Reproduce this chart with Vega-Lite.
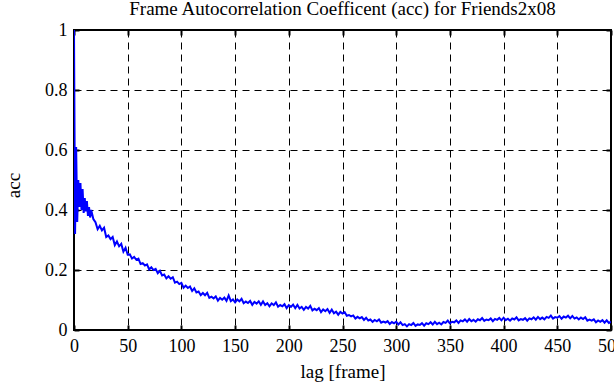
{
  "$schema": "https://vega.github.io/schema/vega-lite/v6.json",
  "autosize": "none",
  "width": 537,
  "height": 300,
  "padding": {"left": 74, "top": 30, "right": 3, "bottom": 55},
  "background": "white",
  "config": {
    "font": "Liberation Serif",
    "view": {"stroke": "black", "strokeWidth": 2},
    "axis": {"labelFont": "Liberation Serif", "titleFont": "Liberation Serif", "labelFontSize": 18, "titleFontSize": 19, "labelColor": "black", "titleColor": "black", "titleFontWeight": "normal", "minExtent": 0}
  },
  "title": {"text": "Frame Autocorrelation Coefficent (acc) for Friends2x08", "anchor": "middle", "offset": 0, "dy": 13, "baseline": "alphabetic", "fontSize": 19, "fontWeight": "normal", "font": "Liberation Serif", "color": "black"},
  "data": {"values": [
    {"lag":0,"acc":1.0},{"lag":1,"acc":0.32},{"lag":2,"acc":0.61},{"lag":3,"acc":0.36},{"lag":4,"acc":0.5},{"lag":5,"acc":0.41},{"lag":6,"acc":0.49},{"lag":7,"acc":0.4},{"lag":8,"acc":0.47},{"lag":9,"acc":0.39},{"lag":10,"acc":0.44},{"lag":11,"acc":0.395},{"lag":12,"acc":0.43},{"lag":13,"acc":0.38},{"lag":14,"acc":0.41},{"lag":15,"acc":0.375},
    {"lag":16,"acc":0.4},{"lag":18,"acc":0.37},{"lag":20,"acc":0.359},{"lag":22,"acc":0.336},{"lag":24,"acc":0.347},{"lag":26,"acc":0.332},{"lag":28,"acc":0.341},{"lag":30,"acc":0.31},{"lag":32,"acc":0.315},{"lag":34,"acc":0.303},{"lag":36,"acc":0.31},{"lag":38,"acc":0.283},{"lag":40,"acc":0.295},{"lag":42,"acc":0.279},{"lag":44,"acc":0.287},{"lag":46,"acc":0.261},{"lag":48,"acc":0.274},
    {"lag":50,"acc":0.251},{"lag":52,"acc":0.252},{"lag":54,"acc":0.238},{"lag":56,"acc":0.2435},{"lag":58,"acc":0.234},{"lag":60,"acc":0.238},{"lag":62,"acc":0.22},{"lag":64,"acc":0.223},{"lag":66,"acc":0.215},{"lag":68,"acc":0.219},{"lag":70,"acc":0.202},{"lag":72,"acc":0.209},{"lag":74,"acc":0.2},{"lag":76,"acc":0.204},{"lag":78,"acc":0.189},{"lag":80,"acc":0.197},{"lag":82,"acc":0.182},{"lag":84,"acc":0.185},{"lag":86,"acc":0.172},{"lag":88,"acc":0.179},{"lag":90,"acc":0.171},{"lag":92,"acc":0.176},{"lag":94,"acc":0.158},{"lag":96,"acc":0.161},{"lag":98,"acc":0.153},
    {"lag":100,"acc":0.157},{"lag":102,"acc":0.141},{"lag":104,"acc":0.148},{"lag":106,"acc":0.14},{"lag":108,"acc":0.145},{"lag":110,"acc":0.13},{"lag":112,"acc":0.139},{"lag":114,"acc":0.125},{"lag":116,"acc":0.128},{"lag":118,"acc":0.116},{"lag":120,"acc":0.1235},{"lag":122,"acc":0.116},{"lag":124,"acc":0.124},{"lag":126,"acc":0.107},{"lag":128,"acc":0.111},{"lag":130,"acc":0.105},{"lag":132,"acc":0.112},{"lag":134,"acc":0.098},{"lag":136,"acc":0.107},{"lag":138,"acc":0.101},{"lag":140,"acc":0.108},{"lag":142,"acc":0.097},{"lag":144,"acc":0.115},{"lag":146,"acc":0.096},{"lag":148,"acc":0.102},
    {"lag":150,"acc":0.092},{"lag":152,"acc":0.1015},{"lag":154,"acc":0.0956},{"lag":156,"acc":0.104},{"lag":158,"acc":0.089},{"lag":160,"acc":0.0947},{"lag":162,"acc":0.09},{"lag":164,"acc":0.097},{"lag":166,"acc":0.084},{"lag":168,"acc":0.0936},{"lag":170,"acc":0.088},{"lag":172,"acc":0.0957},{"lag":174,"acc":0.0839},{"lag":176,"acc":0.0952},{"lag":178,"acc":0.0834},{"lag":180,"acc":0.0891},{"lag":182,"acc":0.0792},{"lag":184,"acc":0.0889},{"lag":186,"acc":0.0832},{"lag":188,"acc":0.0922},{"lag":190,"acc":0.0774},{"lag":192,"acc":0.0831},{"lag":194,"acc":0.079},{"lag":196,"acc":0.0861},{"lag":198,"acc":0.0729},
    {"lag":200,"acc":0.0828},{"lag":202,"acc":0.0771},{"lag":204,"acc":0.0847},{"lag":206,"acc":0.0727},{"lag":208,"acc":0.0838},{"lag":210,"acc":0.0718},{"lag":212,"acc":0.0773},{"lag":214,"acc":0.0674},{"lag":216,"acc":0.0771},{"lag":218,"acc":0.0714},{"lag":220,"acc":0.0804},{"lag":222,"acc":0.0654},{"lag":224,"acc":0.0707},{"lag":226,"acc":0.0662},{"lag":228,"acc":0.0729},{"lag":230,"acc":0.0593},{"lag":232,"acc":0.0686},{"lag":234,"acc":0.0625},{"lag":236,"acc":0.0697},{"lag":238,"acc":0.0573},{"lag":240,"acc":0.068},{"lag":242,"acc":0.0558},{"lag":244,"acc":0.0611},{"lag":246,"acc":0.051},{"lag":248,"acc":0.0605},
    {"lag":250,"acc":0.055},{"lag":252,"acc":0.0598},{"lag":254,"acc":0.0476},{"lag":256,"acc":0.0499},{"lag":258,"acc":0.0452},{"lag":260,"acc":0.0485},{"lag":262,"acc":0.0379},{"lag":264,"acc":0.0438},{"lag":266,"acc":0.0387},{"lag":268,"acc":0.0431},{"lag":270,"acc":0.0335},{"lag":272,"acc":0.0408},{"lag":274,"acc":0.0316},{"lag":276,"acc":0.0349},{"lag":278,"acc":0.0272},{"lag":280,"acc":0.0335},{"lag":282,"acc":0.0292},{"lag":284,"acc":0.0354},{"lag":286,"acc":0.0246},{"lag":288,"acc":0.0283},{"lag":290,"acc":0.025},{"lag":292,"acc":0.0297},{"lag":294,"acc":0.0199},{"lag":296,"acc":0.0266},{"lag":298,"acc":0.0223},
    {"lag":300,"acc":0.0275},{"lag":302,"acc":0.0183},{"lag":304,"acc":0.0256},{"lag":306,"acc":0.0164},{"lag":308,"acc":0.0197},{"lag":310,"acc":0.012},{"lag":312,"acc":0.0197},{"lag":314,"acc":0.0164},{"lag":316,"acc":0.0236},{"lag":318,"acc":0.0138},{"lag":320,"acc":0.0185},{"lag":322,"acc":0.0166},{"lag":324,"acc":0.0227},{"lag":326,"acc":0.0143},{"lag":328,"acc":0.0224},{"lag":330,"acc":0.0195},{"lag":332,"acc":0.0259},{"lag":334,"acc":0.0183},{"lag":336,"acc":0.0272},{"lag":338,"acc":0.0196},{"lag":340,"acc":0.0245},{"lag":342,"acc":0.0186},{"lag":344,"acc":0.0267},{"lag":346,"acc":0.0238},{"lag":348,"acc":0.0314},
    {"lag":350,"acc":0.022},{"lag":352,"acc":0.0273},{"lag":354,"acc":0.0256},{"lag":356,"acc":0.0319},{"lag":358,"acc":0.0237},{"lag":360,"acc":0.032},{"lag":362,"acc":0.0289},{"lag":364,"acc":0.0353},{"lag":366,"acc":0.0277},{"lag":368,"acc":0.0366},{"lag":370,"acc":0.029},{"lag":372,"acc":0.0339},{"lag":374,"acc":0.0278},{"lag":376,"acc":0.0357},{"lag":378,"acc":0.0326},{"lag":380,"acc":0.04},{"lag":382,"acc":0.0302},{"lag":384,"acc":0.0349},{"lag":386,"acc":0.0326},{"lag":388,"acc":0.0383},{"lag":390,"acc":0.0295},{"lag":392,"acc":0.0372},{"lag":394,"acc":0.0339},{"lag":396,"acc":0.0401},{"lag":398,"acc":0.0323},
    {"lag":400,"acc":0.041},{"lag":402,"acc":0.033},{"lag":404,"acc":0.0375},{"lag":406,"acc":0.031},{"lag":408,"acc":0.0385},{"lag":410,"acc":0.035},{"lag":412,"acc":0.042},{"lag":414,"acc":0.032},{"lag":416,"acc":0.0365},{"lag":418,"acc":0.034},{"lag":420,"acc":0.0395},{"lag":422,"acc":0.0309},{"lag":424,"acc":0.0388},{"lag":426,"acc":0.0357},{"lag":428,"acc":0.0421},{"lag":430,"acc":0.0345},{"lag":432,"acc":0.0436},{"lag":434,"acc":0.0362},{"lag":436,"acc":0.0413},{"lag":438,"acc":0.0354},{"lag":440,"acc":0.0435},{"lag":442,"acc":0.0404},{"lag":444,"acc":0.0478},{"lag":446,"acc":0.0382},{"lag":448,"acc":0.0431},
    {"lag":450,"acc":0.041},{"lag":452,"acc":0.0465},{"lag":454,"acc":0.0375},{"lag":456,"acc":0.045},{"lag":458,"acc":0.0415},{"lag":460,"acc":0.0475},{"lag":462,"acc":0.0389},{"lag":464,"acc":0.0468},{"lag":466,"acc":0.0382},{"lag":468,"acc":0.0421},{"lag":470,"acc":0.035},{"lag":472,"acc":0.0413},{"lag":474,"acc":0.0366},{"lag":476,"acc":0.0424},{"lag":478,"acc":0.0312},{"lag":480,"acc":0.0345},{"lag":482,"acc":0.031},{"lag":484,"acc":0.0355},{"lag":486,"acc":0.0255},{"lag":488,"acc":0.032},{"lag":490,"acc":0.0275},{"lag":492,"acc":0.0329},{"lag":494,"acc":0.0243},{"lag":496,"acc":0.0322},{"lag":498,"acc":0.0236},{"lag":500,"acc":0.0275}
  ]},
  "layer": [
    {
      "mark": {"type": "line", "color": "#0000ff", "strokeWidth": 2, "clip": true},
      "encoding": {
        "x": {"field": "lag", "type": "quantitative", "scale": {"domain": [0, 500], "nice": false},
          "axis": {"orient": "bottom", "title": "lag [frame]", "values": [0,50,100,150,200,250,300,350,400,450,500], "grid": true, "gridColor": "black", "gridDash": [7,5], "gridWidth": 1, "gridOpacity": 1, "domain": false, "ticks": true, "tickSize": -5, "tickWidth": 2, "tickColor": "black", "labelPadding": 12, "labelFlush": false, "labelOverlap": false, "titlePadding": 7}},
        "y": {"field": "acc", "type": "quantitative", "scale": {"domain": [0, 1], "nice": false},
          "axis": {"orient": "left", "title": "acc", "values": [0,0.2,0.4,0.6,0.8,1], "format": "~g", "grid": true, "gridColor": "black", "gridDash": [7,5], "gridWidth": 1, "gridOpacity": 1, "domain": false, "ticks": true, "tickSize": -5, "tickWidth": 2, "tickColor": "black", "labelPadding": 12, "labelFlush": false, "labelOverlap": false, "titleAngle": 270, "titleAlign": "center", "titleBaseline": "middle", "titleX": -61, "titleY": 155}}
      }
    },
    {
      "mark": {"type": "line", "strokeOpacity": 0},
      "encoding": {
        "x": {"field": "lag", "type": "quantitative", "scale": {"domain": [0, 500], "nice": false},
          "axis": {"orient": "top", "title": null, "values": [0,50,100,150,200,250,300,350,400,450,500], "labels": false, "grid": false, "domain": false, "ticks": true, "tickSize": -5, "tickWidth": 2, "tickColor": "black", "minExtent": 0}},
        "y": {"field": "acc", "type": "quantitative", "scale": {"domain": [0, 1], "nice": false},
          "axis": {"orient": "right", "title": null, "values": [0,0.2,0.4,0.6,0.8,1], "labels": false, "grid": false, "domain": false, "ticks": true, "tickSize": -5, "tickWidth": 2, "tickColor": "black", "minExtent": 0}}
      }
    }
  ],
  "resolve": {"axis": {"x": "independent", "y": "independent"}}
}
